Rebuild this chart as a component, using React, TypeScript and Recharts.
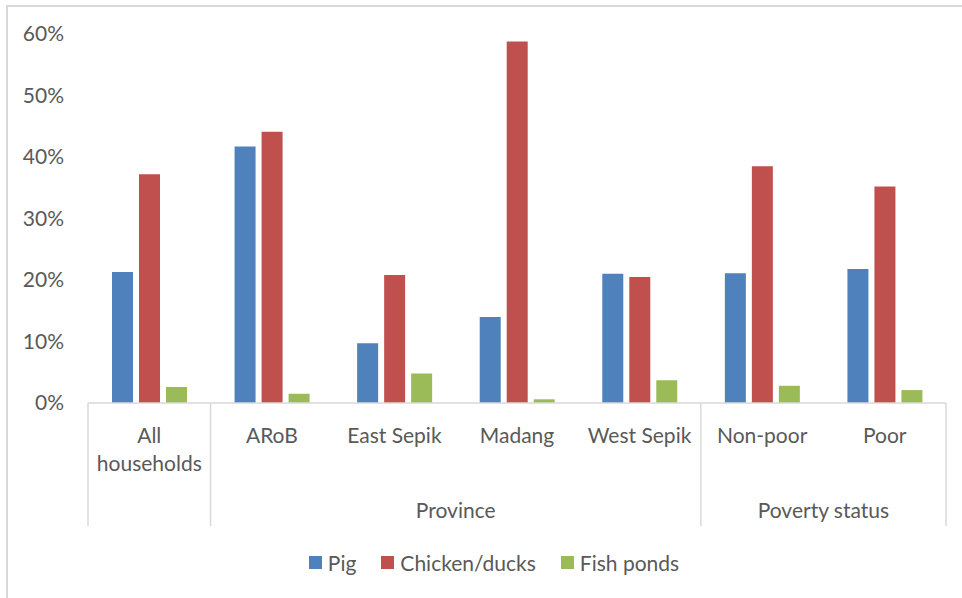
import React from "react";
import { BarChart, Bar, XAxis, YAxis, Legend } from "recharts";

const categories = [
  "All households",
  "ARoB",
  "East Sepik",
  "Madang",
  "West Sepik",
  "Non-poor",
  "Poor",
];
const pig = [21.3, 41.7, 9.7, 14.0, 21.0, 21.1, 21.8];
const chickenDucks = [37.2, 44.1, 20.8, 58.8, 20.5, 38.5, 35.2];
const fishPonds = [2.6, 1.5, 4.8, 0.6, 3.7, 2.8, 2.1];

// second row of the category axis: label, first category index, number of categories
const groupLabels = ["", "Province", "Poverty status"];
const groupStarts = [0, 1, 5];
const groupSizes = [1, 4, 2];

const yTicks = [0, 10, 20, 30, 40, 50, 60];

const seriesNames = ["Pig", "Chicken/ducks", "Fish ponds"];
const seriesColors = ["#4f81bd", "#c0504d", "#9bbb59"];

const data = categories.map((name, i) => ({
  name,
  pig: pig[i],
  chicken: chickenDucks[i],
  fish: fishPonds[i],
}));

const FONT = "Lato, 'Open Sans', sans-serif";
const TEXT = "#595959";
const GRID = "#d9d9d9";
const WIDTH = 962;
const HEIGHT = 598;
const MARGIN = { top: 34, right: 16, left: 8, bottom: 21 };
const Y_AXIS_W = 80;
const PLOT_W = WIDTH - MARGIN.left - MARGIN.right - Y_AXIS_W;

function CategoryTick(props: any) {
  const { x, y, index, payload } = props;
  const band = PLOT_W / categories.length;
  const label: string = payload.value;
  const words = label.split(" ");
  const lines = index === 0 ? [words[0], words.slice(1).join(" ")] : [label];
  const g = groupStarts.indexOf(index);
  const isLast = index === categories.length - 1;

  return (
    <g>
      {lines.map((line, i) => (
        <text
          key={i}
          x={x}
          y={y + 40 + i * 28}
          textAnchor="middle"
          fill={TEXT}
          fontSize={21}
          fontFamily={FONT}
        >
          {line}
        </text>
      ))}
      {g >= 0 && (
        <line x1={x - band / 2} x2={x - band / 2} y1={y} y2={y + 123} stroke={GRID} strokeWidth={1.5} />
      )}
      {isLast && (
        <line x1={x + band / 2} x2={x + band / 2} y1={y} y2={y + 123} stroke={GRID} strokeWidth={1.5} />
      )}
      {g >= 0 && groupLabels[g] && (
        <text
          x={x + ((groupSizes[g] - 1) * band) / 2}
          y={y + 115}
          textAnchor="middle"
          fill={TEXT}
          fontSize={21}
          fontFamily={FONT}
        >
          {groupLabels[g]}
        </text>
      )}
    </g>
  );
}

function LegendBox() {
  return (
    <div
      style={{
        height: 30,
        display: "flex",
        alignItems: "center",
        justifyContent: "center",
        paddingLeft: 26,
        fontFamily: FONT,
        fontSize: 21,
        color: TEXT,
      }}
    >
      {seriesNames.map((s, i) => (
        <div key={s} style={{ display: "flex", alignItems: "center", marginLeft: i ? 25 : 0 }}>
          <span style={{ width: 13, height: 13, background: seriesColors[i], marginRight: 6 }} />
          <span>{s}</span>
        </div>
      ))}
    </div>
  );
}

export default function App() {
  return (
    <div
      style={{
        position: "absolute",
        left: 0,
        top: 0,
        width: WIDTH,
        height: HEIGHT,
        background: "#fff",
        overflow: "hidden",
      }}
    >
      <div
        style={{
          position: "absolute",
          left: 6,
          top: 5,
          width: 1000,
          height: 1000,
          borderLeft: `2px solid ${GRID}`,
          borderTop: `2px solid ${GRID}`,
        }}
      />
      <div style={{ position: "absolute", left: 0, top: 0 }}>
        <BarChart
          width={WIDTH}
          height={HEIGHT}
          data={data}
          margin={MARGIN}
          barSize={21}
          barGap={6}
        >
          <XAxis
            dataKey="name"
            interval={0}
            height={144}
            tickLine={false}
            tickSize={0}
            tickMargin={0}
            axisLine={{ stroke: GRID, strokeWidth: 1.5 }}
            tick={<CategoryTick />}
          />
          <YAxis
            width={Y_AXIS_W}
            domain={[0, 60]}
            ticks={yTicks}
            axisLine={false}
            tickLine={false}
            tickSize={0}
            tickMargin={24}
            tickFormatter={(v: number) => `${v}%`}
            tick={{ fill: TEXT, fontSize: 21, fontFamily: FONT }}
          />
          <Legend
            verticalAlign="bottom"
            content={<LegendBox />}
            wrapperStyle={{ left: 0, width: WIDTH, bottom: MARGIN.bottom }}
          />
          <Bar dataKey="pig" name={seriesNames[0]} fill={seriesColors[0]} isAnimationActive={false} />
          <Bar dataKey="chicken" name={seriesNames[1]} fill={seriesColors[1]} isAnimationActive={false} />
          <Bar dataKey="fish" name={seriesNames[2]} fill={seriesColors[2]} isAnimationActive={false} />
        </BarChart>
      </div>
    </div>
  );
}
